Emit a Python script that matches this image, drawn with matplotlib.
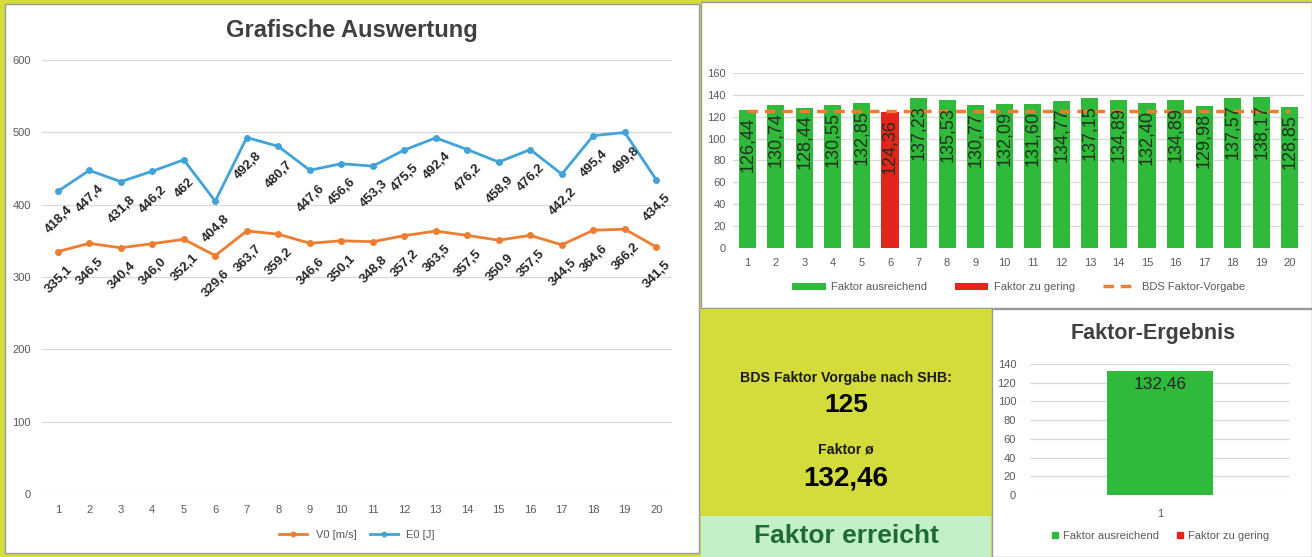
import numpy as np
import matplotlib
matplotlib.use("Agg")
import matplotlib.pyplot as plt
import matplotlib.patches as patches
from matplotlib.lines import Line2D

plt.rcParams['font.family'] = ['Liberation Sans', 'DejaVu Sans']

W, H = 1312, 557

# data
shots = list(range(1, 21))
v0 = [335.1, 346.5, 340.4, 346.0, 352.1, 329.6, 363.7, 359.2, 346.6, 350.1,
      348.8, 357.2, 363.5, 357.5, 350.9, 357.5, 344.5, 364.6, 366.2, 341.5]
e0 = [418.4, 447.4, 431.8, 446.2, 462.0, 404.8, 492.8, 480.7, 447.6, 456.6,
      453.3, 475.5, 492.4, 476.2, 458.9, 476.2, 442.2, 495.4, 499.8, 434.5]
v0_labels = ["335,1", "346,5", "340,4", "346,0", "352,1", "329,6", "363,7", "359,2", "346,6", "350,1",
             "348,8", "357,2", "363,5", "357,5", "350,9", "357,5", "344,5", "364,6", "366,2", "341,5"]
e0_labels = ["418,4", "447,4", "431,8", "446,2", "462", "404,8", "492,8", "480,7", "447,6", "456,6",
             "453,3", "475,5", "492,4", "476,2", "458,9", "476,2", "442,2", "495,4", "499,8", "434,5"]
faktor = [126.44, 130.74, 128.44, 130.55, 132.85, 124.36, 137.23, 135.53, 130.77, 132.09,
          131.60, 134.77, 137.15, 134.89, 132.40, 134.89, 129.98, 137.57, 138.17, 128.85]
vorgabe = 125
faktor_mean = 132.46

GREEN = "#2fba3c"
RED = "#e2261d"
ORANGE = "#ed7d31"
BLUE = "#41a3d8"
YELLOW = "#d3dc3b"
LIGHTGREEN = "#c3f0c9"
TXT = "#595959"


def px_axes(fig, x0, y0, x1, y1, **kw):
    """Axes placed by pixel box (top-left origin)."""
    return fig.add_axes([x0 / W, 1 - y1 / H, (x1 - x0) / W, (y1 - y0) / H], **kw)


def style_axes(ax):
    for s in ax.spines.values():
        s.set_visible(False)
    ax.yaxis.grid(True, color="#d9d9d9", linewidth=0.9)
    ax.set_axisbelow(True)
    ax.tick_params(length=0, colors=TXT, labelsize=8)


def de(v):
    return f"{v:.2f}".replace('.', ',')


fig = plt.figure(figsize=(W / 100, H / 100), dpi=100)
fig.patch.set_facecolor(YELLOW)

# background panels
bg = px_axes(fig, 0, 0, W, H)
bg.set_xlim(0, W)
bg.set_ylim(H, 0)
bg.axis('off')
bg.add_patch(patches.Rectangle((5, 4), 694, 549, facecolor="white", edgecolor="#9a9a9a", lw=1))
bg.add_patch(patches.Rectangle((701, 2), 611, 306, facecolor="white", edgecolor="#9a9a9a", lw=1))
bg.add_patch(patches.Rectangle((701, 309), 290, 207, facecolor=YELLOW, edgecolor="none"))
bg.add_patch(patches.Rectangle((701, 516), 290, 41, facecolor=LIGHTGREEN, edgecolor="none"))
bg.add_patch(patches.Rectangle((992, 309), 320, 248, facecolor="white", edgecolor="#9a9a9a", lw=1))

# yellow box text
bg.text(846, 378, "BDS Faktor Vorgabe nach SHB:", ha='center', va='center', fontsize=10.2,
        fontweight='semibold', color="#1a1a1a")
bg.text(846, 405, f"{vorgabe}", ha='center', va='center', fontsize=19, fontweight='bold', color="black")
bg.text(846, 450, "Faktor ø", ha='center', va='center', fontsize=10.2, fontweight='semibold', color="#1a1a1a")
bg.text(846, 479, de(faktor_mean), ha='center', va='center', fontsize=20,
        fontweight='bold', color="black")
bg.text(846, 536, "Faktor erreicht", ha='center', va='center', fontsize=19, fontweight='bold', color="#1e6b38")
bg.text(352, 30, "Grafische Auswertung", ha='center', va='center', fontsize=17, fontweight='bold', color="#404040")
bg.text(1153, 333, "Faktor-Ergebnis", ha='center', va='center', fontsize=15.5, fontweight='bold', color="#404040")

# left line chart
ax1 = px_axes(fig, 42, 60, 672, 494)
ax1.patch.set_alpha(0)
style_axes(ax1)
ax1.set_xlim(0.5, 20.5)
ax1.set_ylim(0, 600)
ax1.set_yticks(range(0, 601, 100))
ax1.set_xticks(shots)
ax1.tick_params(axis='y', pad=8)
ax1.tick_params(axis='x', pad=8)
ax1.plot(shots, v0, color=ORANGE, lw=2, marker='o', ms=4, label="V0 [m/s]")
ax1.plot(shots, e0, color=BLUE, lw=2, marker='o', ms=4, label="E0 [J]")
for x, y, lab in zip(shots, v0, v0_labels):
    ax1.annotate(lab, (x, y), xytext=(1, -28), textcoords='offset pixels', rotation=45,
                 ha='center', va='center', fontsize=9.5, fontweight='bold', color="#262626")
for x, y, lab in zip(shots, e0, e0_labels):
    ax1.annotate(lab, (x, y), xytext=(1, -28), textcoords='offset pixels', rotation=45,
                 ha='center', va='center', fontsize=9.5, fontweight='bold', color="#262626")
ax1.legend(loc='center', bbox_to_anchor=(0.5, -0.095), ncol=2, frameon=False, fontsize=8,
           labelcolor=TXT, handlelength=2.5, columnspacing=1.2, markerscale=0.8)

# right top bar chart
ax2 = px_axes(fig, 733, 73, 1304, 248)
ax2.patch.set_alpha(0)
style_axes(ax2)
ax2.set_xlim(0.5, 20.5)
ax2.set_ylim(0, 160)
ax2.set_yticks(range(0, 161, 20))
ax2.set_xticks(shots)
ax2.tick_params(axis='y', pad=5)
ax2.tick_params(axis='x', pad=7)
faktor_arr = np.array(faktor)
x_arr = np.array(shots)
ok = faktor_arr >= vorgabe
b_ok = ax2.bar(x_arr[ok], faktor_arr[ok], width=0.6, color=GREEN)
b_low = ax2.bar(x_arr[~ok], faktor_arr[~ok], width=0.6, color=RED)
ln, = ax2.plot(shots, [vorgabe] * len(shots), color=ORANGE, lw=2.5, ls=(0, (3, 2)))
for x, v in zip(shots, faktor):
    ax2.annotate(de(v), (x, v), xytext=(0, -7), textcoords='offset pixels',
                 rotation=90, ha='center', va='top', fontsize=13, color="#25301f")
ax2.legend([b_ok, b_low, ln], ["Faktor ausreichend", "Faktor zu gering", "BDS Faktor-Vorgabe"],
           loc='center', bbox_to_anchor=(0.5, -0.225), ncol=3, frameon=False, fontsize=8,
           labelcolor=TXT, handlelength=3.0, handleheight=0.7, handletextpad=0.5, columnspacing=2.5)

# right bottom single bar
ax3 = px_axes(fig, 1030, 364, 1290, 495)
ax3.patch.set_alpha(0)
style_axes(ax3)
ax3.set_xlim(0.5, 1.5)
ax3.set_ylim(0, 140)
ax3.set_yticks(range(0, 141, 20))
ax3.set_xticks([1])
ax3.tick_params(axis='y', pad=10)
ax3.tick_params(axis='x', pad=10)
ax3.bar([1], [faktor_mean], width=0.41, color=GREEN)
ax3.annotate(de(faktor_mean), (1, faktor_mean), xytext=(0, -6),
             textcoords='offset pixels', ha='center', va='top', fontsize=12.5, color="#262626")
handles = [Line2D([], [], ls='none', marker='s', ms=5, color=GREEN),
           Line2D([], [], ls='none', marker='s', ms=5, color=RED)]
ax3.legend(handles, ["Faktor ausreichend", "Faktor zu gering"], loc='center', bbox_to_anchor=(0.5, -0.31),
           ncol=2, frameon=False, fontsize=8, labelcolor=TXT, handlelength=0.8, handletextpad=0.3,
           columnspacing=1.5)

fig.savefig("out.png", dpi=100, facecolor=fig.get_facecolor())
